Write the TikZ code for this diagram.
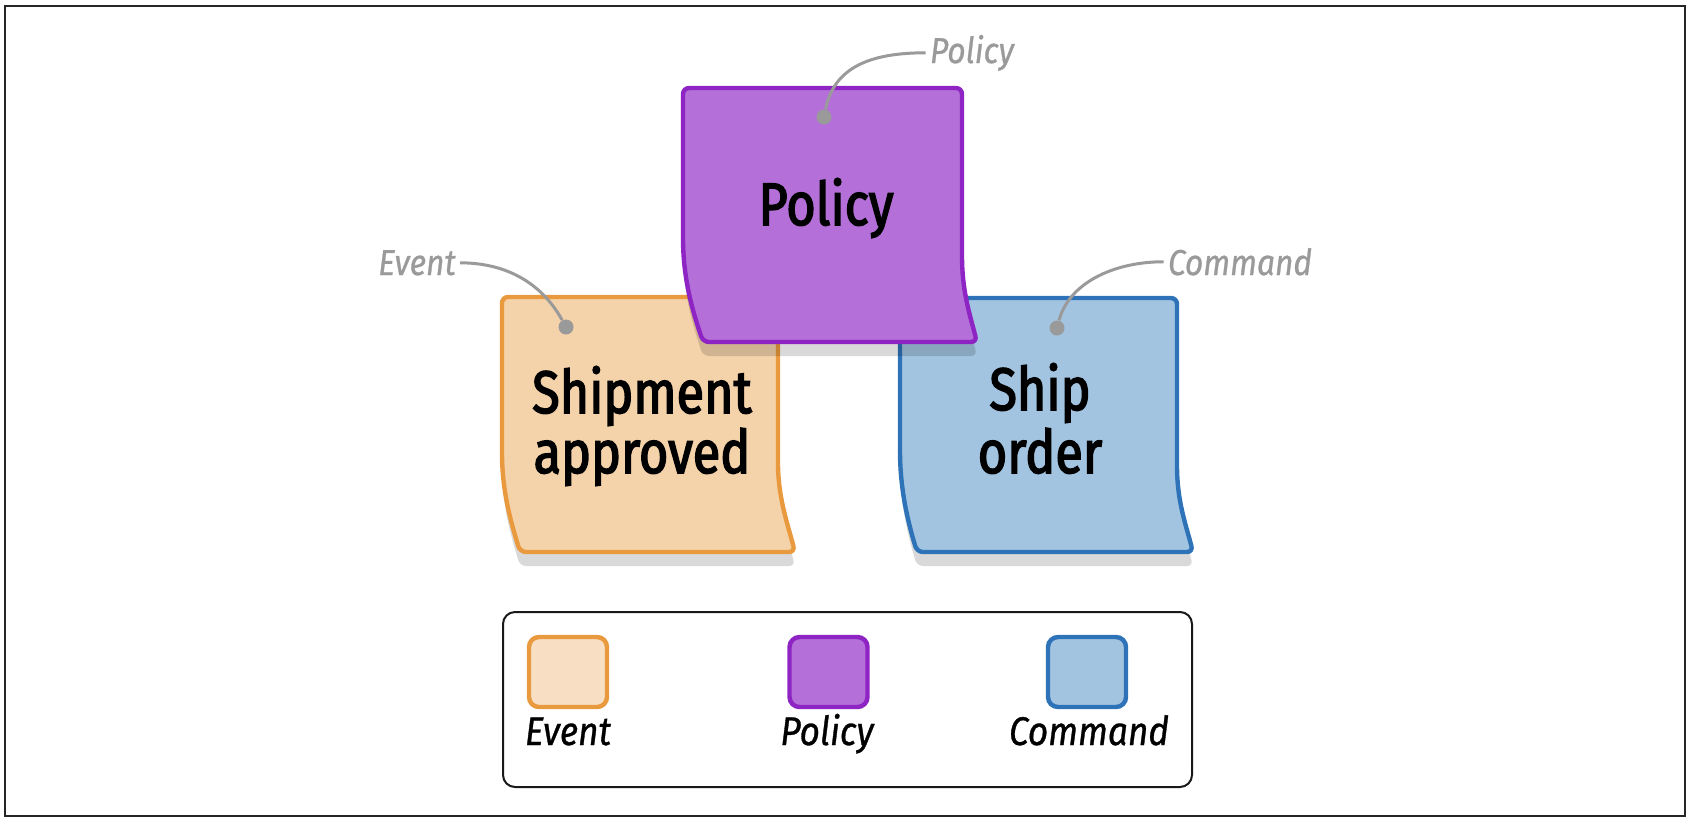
\documentclass[tikz,border=0pt]{standalone}
\usepackage{fontspec}
\newfontfamily\handfont{Fira Sans}[FakeStretch=0.84,FakeBold=2.5]
\newfontfamily\lblfont{Fira Sans}[FakeStretch=0.88,FakeBold=0.8]
\definecolor{evstroke}{HTML}{EA9A3E}
\definecolor{evfill}{HTML}{F5D3AA}
\definecolor{evlegfill}{HTML}{F8DFC3}
\definecolor{postroke}{HTML}{8E24C4}
\definecolor{pofill}{HTML}{B470D8}
\definecolor{cmstroke}{HTML}{2E73B8}
\definecolor{cmfill}{HTML}{A2C4E1}
\definecolor{calloutgray}{HTML}{9A9A9A}
\newcommand\evshape{(502,447) -- (502,297) -- (778,297) -- (778,457) .. controls (778,497) and (787,522) .. (795,552) -- (520,552) .. controls (511,522) and (502,492) .. (502,447) -- cycle}
\newcommand\cmshape{(900,445) -- (900,298) -- (1177,298) -- (1177,460) .. controls (1177,500) and (1185,522) .. (1193,552) -- (917,552) .. controls (908,522) and (900,490) .. (900,445) -- cycle}
\newcommand\poshape{(683,232) -- (683,88) -- (962,88) -- (962,250) .. controls (962,290) and (969,312) .. (977,342) -- (703,342) .. controls (693,312) and (683,280) .. (683,232) -- cycle}
\begin{document}
\begin{tikzpicture}[x=0.5pt,y=-0.5pt,
  note/.style={line width=2.2pt, line join=round, rounded corners=3pt},
  noteshadow/.style={fill=black, opacity=0.15, rounded corners=3pt, shift={(0,14)}},
  handtext/.style={font=\handfont\fontsize{30pt}{30pt}\selectfont, anchor=base, inner sep=0pt},
  calltext/.style={font=\lblfont\itshape\fontsize{18pt}{18pt}\selectfont, text=calloutgray, anchor=base, inner sep=2pt},
  callline/.style={draw=calloutgray, line width=1.5pt},
  calldot/.style={circle, fill=calloutgray, minimum size=7.5pt, inner sep=0pt},
  legsq/.style={line width=2.2pt, rounded corners=5pt, minimum width=39pt, minimum height=35pt, inner sep=0pt},
  legtext/.style={font=\lblfont\itshape\fontsize{20pt}{20pt}\selectfont, anchor=base, inner sep=0pt}]
\useasboundingbox (0,0) rectangle (1690,820);
\draw[line width=1pt, draw=black!85] (5,5.5) rectangle (1685,815.5);
% event note
\fill[noteshadow] \evshape;
\draw[note, draw=evstroke, fill=evfill] \evshape;
% command note
\fill[noteshadow] \cmshape;
\draw[note, draw=cmstroke, fill=cmfill] \cmshape;
% policy note
\fill[noteshadow] \poshape;
\draw[note, draw=postroke, fill=pofill] \poshape;
% note texts
\node[handtext] (evt1) at (642,413) {Shipment};
\node[handtext] (evt2) at (642,473) {approved};
\node[handtext] (cmt1) at (1040,410) {Ship};
\node[handtext] (cmt2) at (1040,473) {order};
\node[handtext] (pot) at (826,225) {Policy};
% callouts
\node[calltext] (evlab) at (417,275) {Event};
\node[calltext] (polab) at (972,63) {Policy};
\node[calltext] (cmlab) at (1240,275) {Command};
\node[calldot] (evdot) at (566,327) {};
\node[calldot] (podot) at (824,117) {};
\node[calldot] (cmdot) at (1057,328) {};
\draw[callline] (evlab.east) .. controls +(45,0) and +(-25,-45) .. (evdot);
\draw[callline] (polab.west) .. controls +(-55,0) and +(10,-50) .. (podot);
\draw[callline] (cmlab.west) .. controls +(-50,0) and +(12,-45) .. (cmdot);
% legend
\node[draw=black!90, line width=1pt, rounded corners=6pt, minimum width=344.5pt, minimum height=87.5pt, inner sep=0pt] (legend) at (847.5,699.5) {};
\node[legsq, draw=evstroke, fill=evlegfill] (legev) at (568,672) {};
\node[legsq, draw=postroke, fill=pofill] (legpo) at (828.5,672) {};
\node[legsq, draw=cmstroke, fill=cmfill] (legcm) at (1087,672) {};
\node[legtext] (legevt) at (568,745) {Event};
\node[legtext] (legpot) at (827,745) {Policy};
\node[legtext] (legcmt) at (1089,745) {Command};
\end{tikzpicture}
\end{document}
